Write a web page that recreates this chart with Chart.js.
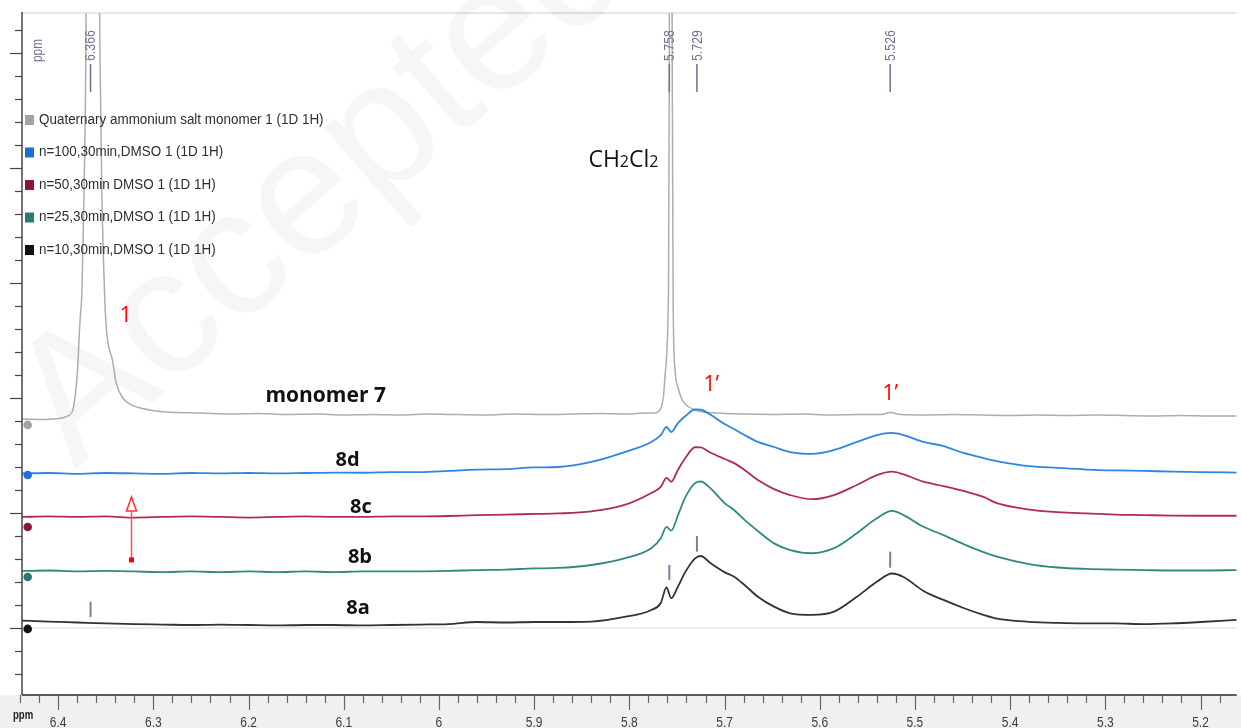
<!DOCTYPE html>
<html>
<head>
<meta charset="utf-8">
<title>1H NMR 5.2 - 6.4 ppm</title>
<script src="https://cdn.jsdelivr.net/npm/chart.js@4.4.1/dist/chart.umd.min.js"></script>
<style>
  html, body { margin: 0; padding: 0; background: #fff; overflow: hidden; }
  #nmr { display: block; }
</style>
</head>
<body>
<canvas id="nmr" width="1241" height="728"></canvas>
<script>
// ========================
// Données lues sur le spectre (ppm / intensité relative)
// ========================

// grille commune des 4 spectres polymères
const ppmGrid = [6.438, 6.41, 6.38, 6.35, 6.32, 6.29, 6.26, 6.23, 6.20, 6.17,
  6.14, 6.11, 6.08, 6.05, 6.02, 5.99, 5.96, 5.93, 5.90, 5.875,
  5.84, 5.805, 5.777, 5.767, 5.761, 5.756, 5.749, 5.741, 5.731, 5.725,
  5.715, 5.700, 5.690, 5.679, 5.665, 5.648, 5.631, 5.608, 5.585, 5.561,
  5.540, 5.524, 5.512, 5.491, 5.470, 5.449, 5.428, 5.414, 5.38, 5.35,
  5.32, 5.29, 5.26, 5.23, 5.20, 5.162];

const int8d = [6.72, 6.74, 6.70, 6.74, 6.72, 6.70, 6.74, 6.72, 6.74, 6.72,
  6.74, 6.76, 6.75, 6.78, 6.78, 6.83, 6.89, 6.91, 6.98, 7.00,
  7.22, 7.65, 8.09, 8.39, 8.74, 8.52, 8.91, 9.22, 9.50, 9.49,
  9.28, 8.87, 8.65, 8.39, 8.09, 7.87, 7.65, 7.57, 7.74, 8.09,
  8.39, 8.48, 8.39, 8.09, 7.91, 7.61, 7.39, 7.26, 7.04, 6.96,
  6.89, 6.85, 6.83, 6.80, 6.78, 6.76];

const int8c = [4.83, 4.85, 4.83, 4.85, 4.80, 4.83, 4.85, 4.83, 4.80, 4.83,
  4.85, 4.83, 4.83, 4.85, 4.85, 4.87, 4.91, 4.93, 4.96, 4.98,
  5.07, 5.35, 5.87, 6.14, 6.53, 6.36, 6.87, 7.40, 7.86, 7.85,
  7.63, 7.35, 7.17, 6.87, 6.43, 6.04, 5.78, 5.60, 5.78, 6.22,
  6.65, 6.80, 6.68, 6.36, 6.17, 5.96, 5.70, 5.43, 5.15, 5.04,
  4.98, 4.93, 4.91, 4.89, 4.88, 4.88];

const int8b = [2.48, 2.50, 2.46, 2.48, 2.46, 2.43, 2.46, 2.43, 2.46, 2.43,
  2.46, 2.43, 2.46, 2.46, 2.46, 2.48, 2.52, 2.54, 2.59, 2.61,
  2.74, 3.03, 3.47, 3.90, 4.40, 4.23, 4.90, 5.70, 6.30, 6.37,
  6.08, 5.43, 5.13, 4.70, 4.22, 3.68, 3.39, 3.25, 3.47, 4.12,
  4.77, 5.09, 4.91, 4.40, 4.04, 3.65, 3.30, 3.10, 2.78, 2.63,
  2.57, 2.54, 2.52, 2.50, 2.50, 2.52];

const int8a = [0.32, 0.28, 0.24, 0.20, 0.17, 0.15, 0.13, 0.15, 0.13, 0.11,
  0.13, 0.13, 0.11, 0.13, 0.15, 0.17, 0.26, 0.24, 0.26, 0.26,
  0.28, 0.48, 0.78, 1.09, 1.76, 1.30, 1.80, 2.45, 3.03, 3.13,
  2.83, 2.43, 2.23, 1.87, 1.36, 0.93, 0.64, 0.57, 0.71, 1.36,
  2.01, 2.37, 2.22, 1.61, 1.22, 0.87, 0.57, 0.41, 0.27, 0.22,
  0.20, 0.20, 0.17, 0.20, 0.26, 0.35];

// monomère (pics de 6.366 et CH2Cl2 hors cadre)
const ppmMonomer = [6.438, 6.414, 6.396, 6.390, 6.385, 6.382, 6.380, 6.377, 6.375, 6.373,
  6.371, 6.369, 6.364, 6.359, 6.356, 6.354, 6.351, 6.349, 6.343, 6.339,
  6.332, 6.323, 6.314, 6.286, 6.251, 6.22, 6.19, 6.16, 6.13, 6.10,
  6.07, 6.04, 6.01, 5.98, 5.95, 5.92, 5.89, 5.86, 5.83, 5.80,
  5.785, 5.775, 5.770, 5.766, 5.764, 5.762, 5.759, 5.758, 5.757, 5.755,
  5.754, 5.752, 5.749, 5.745, 5.739, 5.731, 5.723, 5.707, 5.68, 5.65,
  5.62, 5.59, 5.56, 5.535, 5.526, 5.515, 5.49, 5.46, 5.43, 5.40,
  5.37, 5.34, 5.31, 5.28, 5.25, 5.22, 5.19, 5.162];

const intMonomer = [9.09, 9.07, 9.13, 9.22, 9.43, 10.13, 11.00, 13.39, 14.70, 18.61,
  24.70, 40.35, 92.5, 40.35, 24.70, 18.61, 14.26, 12.83, 11.65, 10.65,
  10.00, 9.70, 9.57, 9.39, 9.35, 9.30, 9.33, 9.28, 9.30, 9.26,
  9.28, 9.26, 9.30, 9.28, 9.26, 9.30, 9.28, 9.30, 9.33, 9.30,
  9.35, 9.35, 9.39, 9.65, 10.13, 11.22, 14.26, 24.70, 92.5, 24.70,
  14.26, 11.22, 10.48, 9.96, 9.65, 9.48, 9.39, 9.35, 9.30, 9.28,
  9.30, 9.26, 9.28, 9.28, 9.37, 9.28, 9.26, 9.28, 9.26, 9.24,
  9.26, 9.24, 9.26, 9.24, 9.22, 9.24, 9.22, 9.22];

const seriesLabels = ['Quaternary ammonium salt monomer 1 (1D 1H)', 'n=100,30min,DMSO 1 (1D 1H)',
  'n=50,30min DMSO 1 (1D 1H)', 'n=25,30min,DMSO 1 (1D 1H)', 'n=10,30min,DMSO 1 (1D 1H)'];
const lineColors = ['#adadad', '#2f86e0', '#b02a5a', '#2f8a80', '#333333'];
const legendColors = ['#a3a3a3', '#1b6fd6', '#8c1538', '#2a7a72', '#111111'];

// pastilles à gauche de chaque trace
const markerPpm = 6.432;
const markerLevels = [8.83, 6.65, 4.39, 2.22, -0.04];

// pics repérés (haut du cadre) et traits de pointage sur 8a
const peakLabels = [6.366, 5.758, 5.729, 5.526];
const pickLow = [0.48, 2.09, 3.32, 2.62];
const pickHigh = [1.14, 2.74, 4.00, 3.32];

const xTickLabels = [6.4, 6.3, 6.2, 6.1, 6.0, 5.9, 5.8, 5.7, 5.6, 5.5, 5.4, 5.3, 5.2];

// ========================
// Annotations
// ========================

const traceNames = [
  { text: 'monomer 7', ppm: 6.119, v: 10.09 },
  { text: '8d', ppm: 6.096, v: 7.30 },
  { text: '8c', ppm: 6.082, v: 5.26 },
  { text: '8b', ppm: 6.083, v: 3.09 },
  { text: '8a', ppm: 6.085, v: 0.87 }
];
const redLabels = [
  { text: '1', ppm: 6.329, v: 13.57 },
  { text: '1\u2019', ppm: 5.714, v: 10.57 },
  { text: '1\u2019', ppm: 5.526, v: 10.17 }
];

function narrowText(ctx, txt, x, y, sx) {
  ctx.save();
  ctx.translate(x, y);
  ctx.scale(sx, 1);
  ctx.fillText(txt, 0, 0);
  ctx.restore();
}

const nmrDecor = {
  id: 'nmrDecor',
  beforeDraw(chart) {
    const { ctx, chartArea: a } = chart;
    ctx.save();
    ctx.fillStyle = '#ffffff';
    ctx.fillRect(0, 0, chart.width, chart.height);
    ctx.fillStyle = '#f0f0f0';
    ctx.fillRect(0, a.bottom, chart.width, chart.height - a.bottom);
    // bord haut
    ctx.strokeStyle = '#e6e6e6';
    ctx.lineWidth = 2;
    ctx.beginPath(); ctx.moveTo(a.left, a.top); ctx.lineTo(a.right, a.top); ctx.stroke();
    // filigrane
    ctx.save();
    ctx.translate(75, 470);
    ctx.rotate(-41 * Math.PI / 180);
    ctx.font = '180px "Liberation Sans"';
    ctx.fillStyle = 'rgba(0,0,0,0.035)';
    ctx.fillText('Accepted', 0, 0);
    ctx.restore();
    // ligne zéro de 8a
    const y0 = chart.scales.y.getPixelForValue(0);
    ctx.strokeStyle = '#ececec';
    ctx.lineWidth = 2;
    ctx.beginPath(); ctx.moveTo(a.left, y0); ctx.lineTo(a.right, y0); ctx.stroke();
    ctx.restore();
  },
  afterDatasetsDraw(chart) {
    const { ctx, chartArea: a } = chart;
    const xs = chart.scales.x, ys = chart.scales.y;
    ctx.save();

    // axe x
    ctx.strokeStyle = '#5a5a5a';
    ctx.lineWidth = 2;
    ctx.beginPath(); ctx.moveTo(a.left, a.bottom); ctx.lineTo(a.right, a.bottom); ctx.stroke();
    ctx.lineWidth = 1.2;
    ctx.strokeStyle = '#666';
    for (let i = 0; i <= 70; i++) {
      const v = 6.44 - i * 0.02;
      if (v < xs.min) break;
      const px = Math.round(xs.getPixelForValue(v)) + 0.5;
      const major = Math.abs(v * 10 - Math.round(v * 10)) < 1e-6;
      ctx.beginPath(); ctx.moveTo(px, a.bottom); ctx.lineTo(px, a.bottom + (major ? 15 : 8)); ctx.stroke();
    }
    ctx.fillStyle = '#3c3c3c';
    ctx.font = '15px "Liberation Sans"';
    ctx.textAlign = 'center';
    ctx.textBaseline = 'alphabetic';
    xTickLabels.forEach(v => narrowText(ctx, String(v), xs.getPixelForValue(v), 727, 0.8));
    ctx.fillStyle = '#222';
    ctx.font = 'bold 12px "Liberation Sans"';
    ctx.textAlign = 'left';
    narrowText(ctx, 'ppm', 13, 719, 0.8);

    // axe y
    ctx.strokeStyle = '#444';
    ctx.lineWidth = 1.5;
    ctx.beginPath(); ctx.moveTo(a.left, a.top - 1); ctx.lineTo(a.left, a.bottom); ctx.stroke();
    ctx.lineWidth = 1.2;
    for (let v = Math.ceil(ys.min); v <= ys.max; v++) {
      const py = Math.round(ys.getPixelForValue(v)) + 0.5;
      const len = v % 5 === 0 ? 12 : 7;
      ctx.beginPath(); ctx.moveTo(a.left - len, py); ctx.lineTo(a.left, py); ctx.stroke();
    }

    // repères de pics en haut
    ctx.strokeStyle = '#6f6f92';
    ctx.fillStyle = '#6f6f92';
    ctx.lineWidth = 1.5;
    ctx.font = '14px "Liberation Sans"';
    ctx.textBaseline = 'middle';
    peakLabels.forEach(p => {
      const px = xs.getPixelForValue(p);
      ctx.beginPath(); ctx.moveTo(px, 64); ctx.lineTo(px, 92); ctx.stroke();
      ctx.save();
      ctx.translate(px + 1, 61);
      ctx.rotate(-Math.PI / 2);
      ctx.scale(0.88, 1);
      ctx.textAlign = 'left';
      ctx.fillText(p.toFixed(3), 0, 0);
      ctx.restore();
    });
    ctx.save();
    ctx.translate(38, 62);
    ctx.rotate(-Math.PI / 2);
    ctx.scale(0.85, 1);
    ctx.fillText('ppm', 0, 0);
    ctx.restore();

    // traits de pointage sur 8a
    ctx.strokeStyle = '#7c7ca0';
    ctx.lineWidth = 2;
    peakLabels.forEach((p, i) => {
      const px = xs.getPixelForValue(p);
      ctx.beginPath(); ctx.moveTo(px, ys.getPixelForValue(pickLow[i])); ctx.lineTo(px, ys.getPixelForValue(pickHigh[i])); ctx.stroke();
    });

    // légende
    ctx.textAlign = 'left';
    ctx.textBaseline = 'middle';
    ctx.font = '14px "Liberation Sans"';
    seriesLabels.forEach((lab, i) => {
      const y = 120 + i * 32.5;
      ctx.fillStyle = legendColors[i];
      ctx.fillRect(25, y - 5, 9, 10);
      ctx.fillStyle = '#2e2e2e';
      narrowText(ctx, lab, 39, y, 0.96);
    });

    // noms des traces
    ctx.fillStyle = '#111';
    ctx.textAlign = 'center';
    traceNames.forEach((t, i) => {
      ctx.font = (i === 0 ? 'bold 21px' : 'bold 20px') + ' "Open Sans"';
      ctx.fillText(t.text, xs.getPixelForValue(t.ppm), ys.getPixelForValue(t.v));
    });

    // CH2Cl2
    ctx.textAlign = 'left';
    ctx.textBaseline = 'alphabetic';
    let cx = xs.getPixelForValue(5.843);
    const cy = ys.getPixelForValue(20.04);
    [['CH', 23], ['2', 16], ['Cl', 23], ['2', 16]].forEach(([s, size]) => {
      ctx.font = size + 'px "Open Sans"';
      ctx.fillText(s, cx, cy);
      cx += ctx.measureText(s).width;
    });

    // étiquettes rouges
    ctx.fillStyle = '#ff0000';
    ctx.textAlign = 'center';
    ctx.textBaseline = 'middle';
    ctx.font = '21px "Open Sans"';
    redLabels.forEach(t => ctx.fillText(t.text, xs.getPixelForValue(t.ppm), ys.getPixelForValue(t.v)));

    // flèche rouge
    const ax = Math.round(xs.getPixelForValue(6.323)) + 0.5;
    const yBase = ys.getPixelForValue(2.96), yHead = ys.getPixelForValue(5.09), yTip = ys.getPixelForValue(5.70);
    ctx.strokeStyle = '#ff5050';
    ctx.lineWidth = 1.5;
    ctx.beginPath(); ctx.moveTo(ax, yBase); ctx.lineTo(ax, yHead); ctx.stroke();
    ctx.fillStyle = '#ffffff';
    ctx.strokeStyle = '#ff3030';
    ctx.beginPath(); ctx.moveTo(ax, yTip); ctx.lineTo(ax - 5, yHead); ctx.lineTo(ax + 5, yHead); ctx.closePath();
    ctx.fill(); ctx.stroke();
    ctx.fillStyle = '#ff0000';
    ctx.fillRect(ax - 2.5, yBase - 2.5, 5, 5);

    ctx.restore();
  }
};

// ========================
// Graphique
// ========================

const toPoints = (xs, ys) => xs.map((x, i) => ({ x, y: ys[i] }));
const traceData = [toPoints(ppmMonomer, intMonomer), toPoints(ppmGrid, int8d), toPoints(ppmGrid, int8c),
  toPoints(ppmGrid, int8b), toPoints(ppmGrid, int8a)];

const datasets = traceData.map((d, i) => ({
  label: seriesLabels[i],
  data: d,
  borderColor: lineColors[i],
  borderWidth: i === 0 ? 1.5 : 1.8,
  pointRadius: 0,
  fill: false,
  order: 5 - i
}));
datasets.push({
  label: 'markers',
  data: markerLevels.map(v => ({ x: markerPpm, y: v })),
  showLine: false,
  pointRadius: 4.3,
  pointBorderWidth: 0,
  pointBackgroundColor: legendColors,
  order: 0
});

const chart = new Chart(document.getElementById('nmr'), {
  type: 'line',
  data: { datasets },
  options: {
    responsive: false,
    devicePixelRatio: 1,
    animation: false,
    events: [],
    layout: { padding: { left: 22, top: 13, right: 0, bottom: 33 } },
    scales: {
      x: { type: 'linear', min: 5.162, max: 6.438, reverse: true, display: false },
      y: { type: 'linear', min: -2.913, max: 26.74, display: false }
    },
    elements: { line: { cubicInterpolationMode: 'monotone' } },
    plugins: { legend: { display: false }, tooltip: { enabled: false } }
  },
  plugins: [nmrDecor]
});
</script>
</body>
</html>
